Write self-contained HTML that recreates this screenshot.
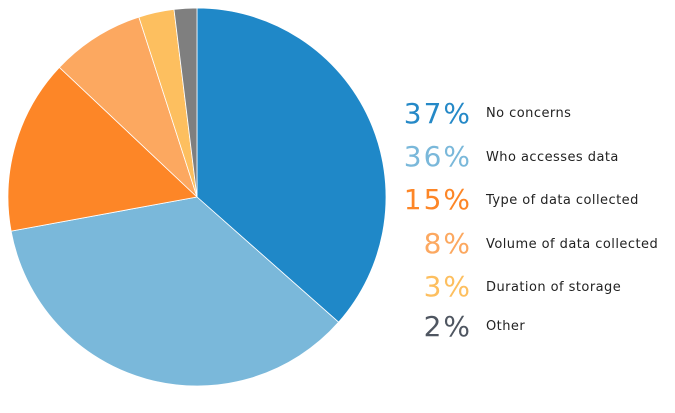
<!DOCTYPE html>
<html><head><meta charset="utf-8"><style>
body{margin:0;width:675px;height:408px;background:#fff;overflow:hidden}
svg text{font-family:"DejaVu Sans",Verdana,sans-serif}
</style></head><body>
<svg width="675" height="408" viewBox="0 0 675 408">
<g stroke="#fff" stroke-width="0.8">
<path d="M197,197 L197,8 A189,189 0 0 1 338.6,322.2 Z" fill="#1f88c8"/>
<path d="M197,197 L338.6,322.2 A189,189 0 0 1 11.1,231.1 Z" fill="#7ab8da"/>
<path d="M197,197 L11.1,231.1 A189,189 0 0 1 59.4,67.4 Z" fill="#fd8627"/>
<path d="M197,197 L59.4,67.4 A189,189 0 0 1 138.9,17.1 Z" fill="#fca860"/>
<path d="M197,197 L138.9,17.1 A189,189 0 0 1 174.0,9.4 Z" fill="#fdbf5f"/>
<path d="M197,197 L174.0,9.4 A189,189 0 0 1 197,8 Z" fill="#7f7f7f"/>
</g>
<g font-size="28" text-anchor="end" letter-spacing="2">
<text x="472" y="123" fill="#2589c7">37%</text>
<text x="472" y="166" fill="#7ab8da">36%</text>
<text x="472" y="209" fill="#fd8627">15%</text>
<text x="472" y="253" fill="#fca860">8%</text>
<text x="472" y="296" fill="#fdbf5f">3%</text>
<text x="472" y="336" fill="#4f5661">2%</text>
</g>
<g font-size="13" fill="#222" letter-spacing="0.45">
<text x="486" y="117">No concerns</text>
<text x="486" y="161">Who accesses data</text>
<text x="486" y="204">Type of data collected</text>
<text x="486" y="248">Volume of data collected</text>
<text x="486" y="291">Duration of storage</text>
<text x="486" y="330">Other</text>
</g>
</svg>
</body></html>
